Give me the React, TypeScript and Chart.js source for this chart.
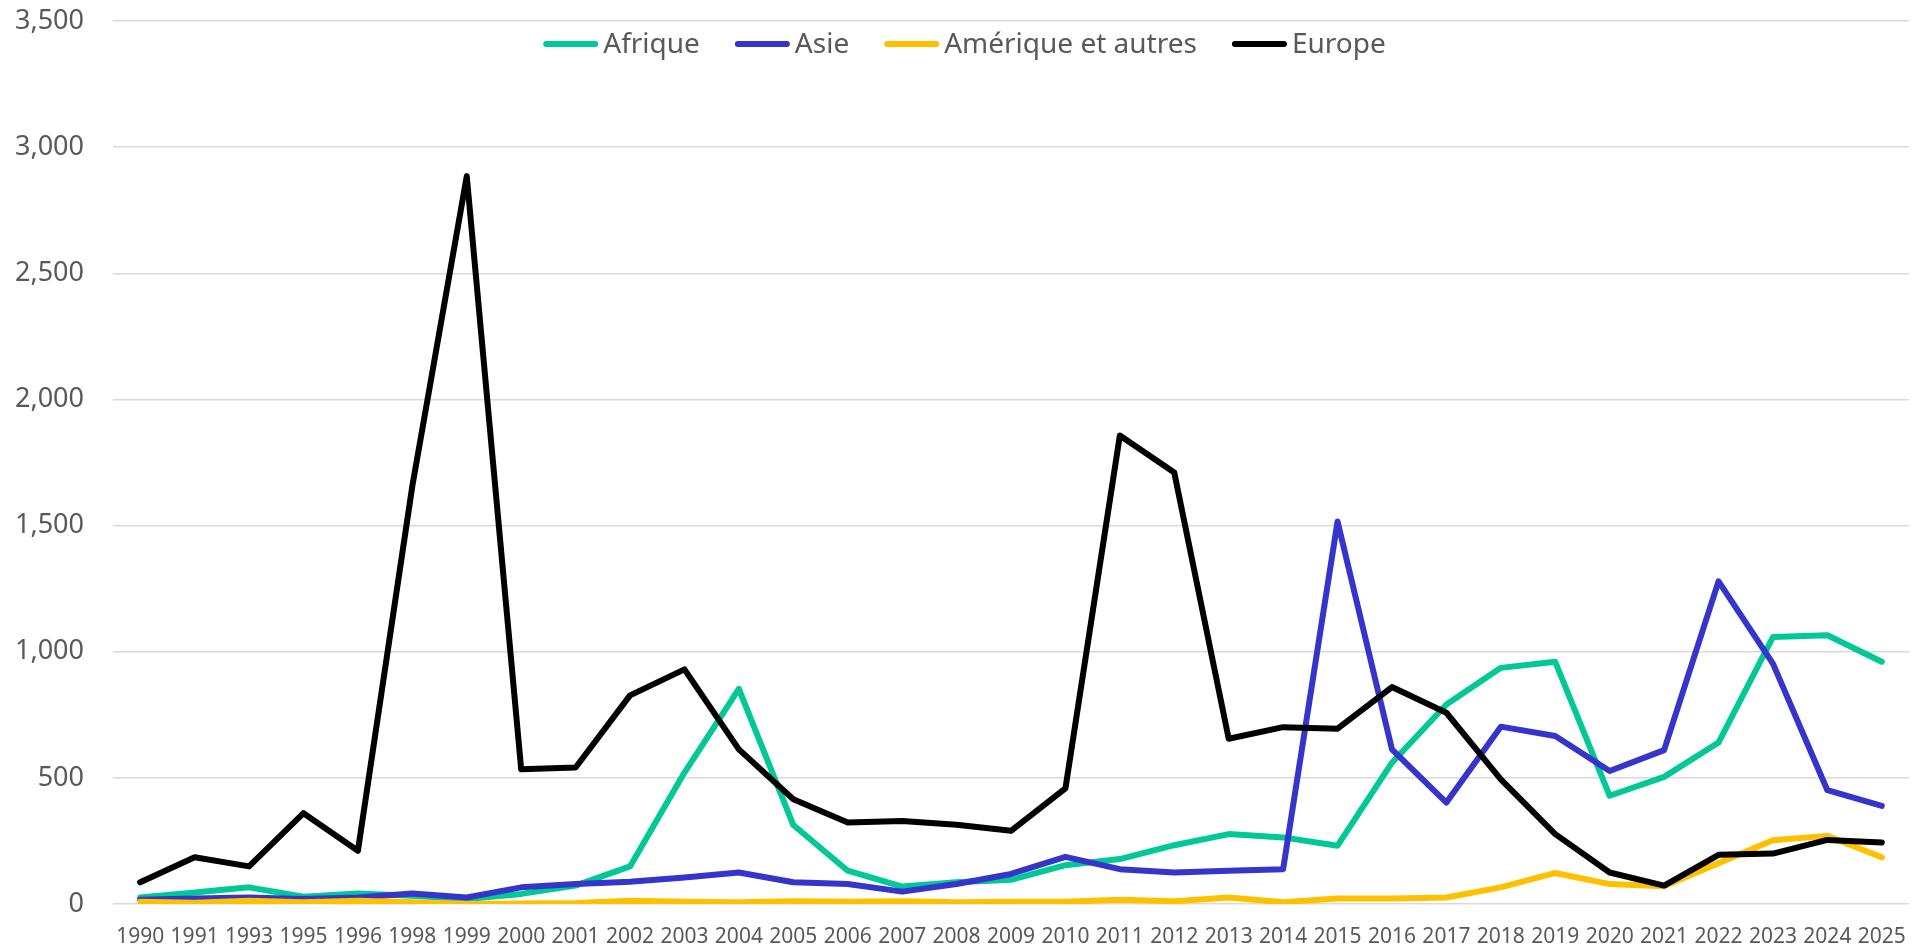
import React, { useEffect, useRef } from "react";
import { Chart, registerables } from "chart.js";

Chart.register(...registerables);

const years = [
  "1990", "1991", "1993", "1995", "1996", "1998", "1999", "2000", "2001", "2002", "2003",
  "2004", "2005", "2006", "2007", "2008", "2009", "2010", "2011", "2012", "2013", "2014",
  "2015", "2016", "2017", "2018", "2019", "2020", "2021", "2022", "2023", "2024", "2025",
];

const afrique = [
  26, 46, 66, 29, 42, 33, 20, 40, 73, 149, 521, 853, 313, 132, 69, 86, 96, 154, 178, 233, 277,
  264, 231, 560, 791, 936, 960, 429, 504, 640, 1058, 1065, 960,
];

const asie = [
  17, 22, 26, 20, 26, 42, 26, 66, 79, 88, 105, 125, 86, 79, 49, 79, 119, 187, 138, 125, 132,
  138, 1516, 613, 402, 703, 666, 527, 610, 1279, 953, 451, 389,
];

const amerique = [
  9, 5, 13, 7, 13, 7, 0, 2, 4, 13, 9, 7, 11, 9, 11, 7, 9, 9, 17, 11, 26, 7, 22, 22, 26, 66, 123,
  79, 70, 162, 253, 270, 185,
];

const europe = [
  86, 185, 149, 360, 211, 1657, 2885, 534, 541, 827, 930, 613, 415, 323, 329, 314, 290, 458,
  1857, 1710, 655, 701, 695, 860, 758, 494, 277, 125, 73, 195, 200, 254, 244,
];

const seriesNames = ["Afrique", "Asie", "Amérique et autres", "Europe"];
const seriesColors = ["#00C896", "#3535CC", "#FFC000", "#000000"];

const yTicks = { min: 0, max: 3500, step: 500 };

const FONT = '"Noto Sans", "Open Sans", sans-serif';
const TEXT_COLOR = "#595959";
const W = 1929;
const H = 950;

const legendPlugin = {
  id: "customLegend",
  afterDraw(chart: any) {
    const ctx = chart.ctx as CanvasRenderingContext2D;
    const lineLen = 55;
    const gapLineText = 5;
    const gapItems = 35;
    ctx.save();
    ctx.font = `28px ${FONT}`;
    const items = chart.data.datasets.map((ds: any) => ({
      label: ds.label as string,
      color: ds.borderColor as string,
      w: ctx.measureText(ds.label).width,
    }));
    let total = 0;
    items.forEach((it: any, i: number) => {
      total += lineLen + gapLineText + it.w + (i < items.length - 1 ? gapItems : 0);
    });
    let x = chart.width / 2 - total / 2;
    const y = 44;
    items.forEach((it: any) => {
      ctx.strokeStyle = it.color;
      ctx.lineWidth = 6;
      ctx.lineCap = "round";
      ctx.beginPath();
      ctx.moveTo(x + 3, y);
      ctx.lineTo(x + lineLen - 3, y);
      ctx.stroke();
      x += lineLen + gapLineText;
      ctx.fillStyle = TEXT_COLOR;
      ctx.textBaseline = "middle";
      ctx.textAlign = "left";
      ctx.fillText(it.label, x, y + 1);
      x += it.w + gapItems;
    });
    ctx.restore();
  },
};

export default function App() {
  const canvasRef = useRef<HTMLCanvasElement | null>(null);

  useEffect(() => {
    if (!canvasRef.current) return;
    const values = [afrique, asie, amerique, europe];
    const orders = [3, 2, 1, 0];
    const chart = new Chart(canvasRef.current, {
      type: "line",
      data: {
        labels: years,
        datasets: seriesNames.map((name, i) => ({
          label: name,
          data: values[i],
          borderColor: seriesColors[i],
          backgroundColor: seriesColors[i],
          borderWidth: 6,
          pointRadius: 0,
          pointHoverRadius: 0,
          tension: 0,
          borderJoinStyle: "round" as const,
          borderCapStyle: "round" as const,
          fill: false,
          order: orders[i],
        })),
      },
      options: {
        animation: false,
        responsive: false,
        maintainAspectRatio: false,
        devicePixelRatio: 1,
        locale: "en-US",
        layout: { padding: { left: 0, right: 20, top: 21, bottom: 0 } },
        plugins: {
          legend: { display: false },
          tooltip: { enabled: false },
          title: { display: false },
        },
        scales: {
          x: {
            type: "category",
            offset: true,
            grid: { display: false, drawTicks: false },
            border: { display: false },
            ticks: {
              autoSkip: false,
              maxRotation: 0,
              minRotation: 0,
              padding: 20,
              color: TEXT_COLOR,
              font: { family: FONT, size: 21 },
            },
            afterFit(scale: any) {
              scale.height = 46;
            },
          },
          y: {
            min: yTicks.min,
            max: yTicks.max,
            grid: { color: "#d9d9d9", lineWidth: 1.5, drawTicks: false },
            border: { display: false },
            ticks: {
              stepSize: yTicks.step,
              padding: 29,
              color: TEXT_COLOR,
              font: { family: FONT, size: 27 },
            },
            afterFit(scale: any) {
              scale.width = 113;
              scale.paddingTop = 17;
              scale.paddingBottom = 0;
            },
          },
        },
      },
      plugins: [legendPlugin],
    });
    return () => chart.destroy();
  }, []);

  return (
    <div
      style={{
        position: "fixed",
        left: 0,
        top: 0,
        width: `${W}px`,
        height: `${H}px`,
        background: "#ffffff",
      }}
    >
      <canvas ref={canvasRef} width={W} height={H} style={{ display: "block", width: `${W}px`, height: `${H}px` }} />
    </div>
  );
}
